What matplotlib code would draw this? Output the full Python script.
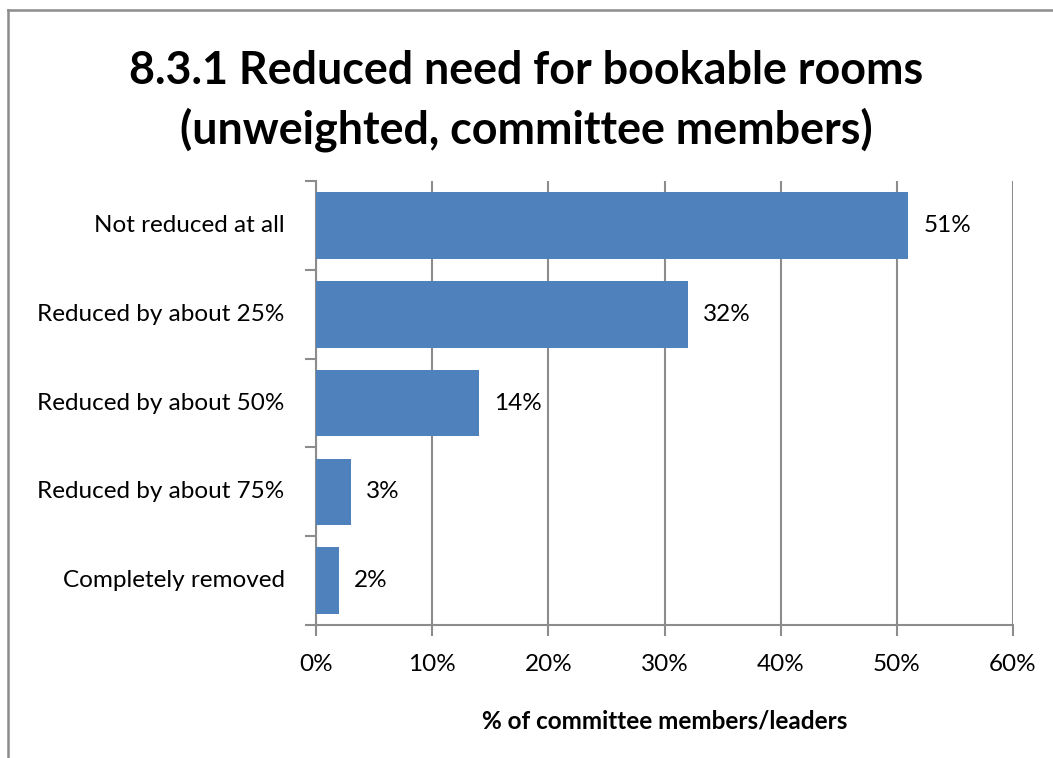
import matplotlib.pyplot as plt
from matplotlib.lines import Line2D

plt.rcParams['font.family'] = ['Lato', 'DejaVu Sans']

categories = ['Not reduced at all', 'Reduced by about 25%', 'Reduced by about 50%',
              'Reduced by about 75%', 'Completely removed']
values = [51, 32, 14, 3, 2]
xticks = [0, 10, 20, 30, 40, 50, 60]

bar_color = '#4F81BD'
grid_color = '#8C8C8C'
fs = 17.5

fig = plt.figure(figsize=(10.53, 7.58), dpi=100)
ax = fig.add_axes([316 / 1053, 1 - 625 / 758, (1013 - 316) / 1053, (625 - 181) / 758])

ypos = list(range(len(categories)))[::-1]
ax.barh(ypos, values, height=0.75, color=bar_color, zorder=3)
for y, v in zip(ypos, values):
    ax.text(v + 1.3, y, f'{v}%', va='center', ha='left', fontsize=fs, color='black')

ax.set_xlim(0, 60)
ax.set_ylim(-0.5, len(categories) - 0.5)
ax.set_xticks(xticks)
ax.set_xticklabels([f'{t}%' for t in xticks], fontsize=fs)
ax.tick_params(axis='x', length=8, color=grid_color, width=1.5, pad=13)
ax.xaxis.grid(True, color=grid_color, linewidth=1.5, zorder=0)

# category labels sit between the boundary tick marks
ax.set_yticks([i - 0.5 for i in range(len(categories) + 1)])
ax.set_yticklabels([])
ax.tick_params(axis='y', length=8, color=grid_color, width=1.5)
for y, c in zip(ypos, categories):
    ax.text(-0.045, y, c, transform=ax.get_yaxis_transform(), ha='right', va='center',
            fontsize=fs)

for s in ['top', 'right']:
    ax.spines[s].set_visible(False)
ax.spines['left'].set_color(grid_color)
ax.spines['bottom'].set_color(grid_color)
ax.spines['left'].set_linewidth(1.5)
ax.spines['bottom'].set_linewidth(1.5)

ax.set_xlabel('% of committee members/leaders', fontsize=fs, fontweight='bold', labelpad=25)

fig.text(0.5, 1 - 101 / 758, '8.3.1 Reduced need for bookable rooms\n(unweighted, committee members)',
         ha='center', va='center', fontsize=32.3, fontweight='bold', linespacing=1.42)

# chart area border (left and top edges)
fig.add_artist(Line2D([8 / 1053, 8 / 1053], [0, 1 - 10 / 758], transform=fig.transFigure,
                      color='#8C8C8C', linewidth=1.8))
fig.add_artist(Line2D([8 / 1053, 1], [1 - 10 / 758, 1 - 10 / 758], transform=fig.transFigure,
                      color='#8C8C8C', linewidth=1.8))

fig.savefig('out.png', dpi=100)
